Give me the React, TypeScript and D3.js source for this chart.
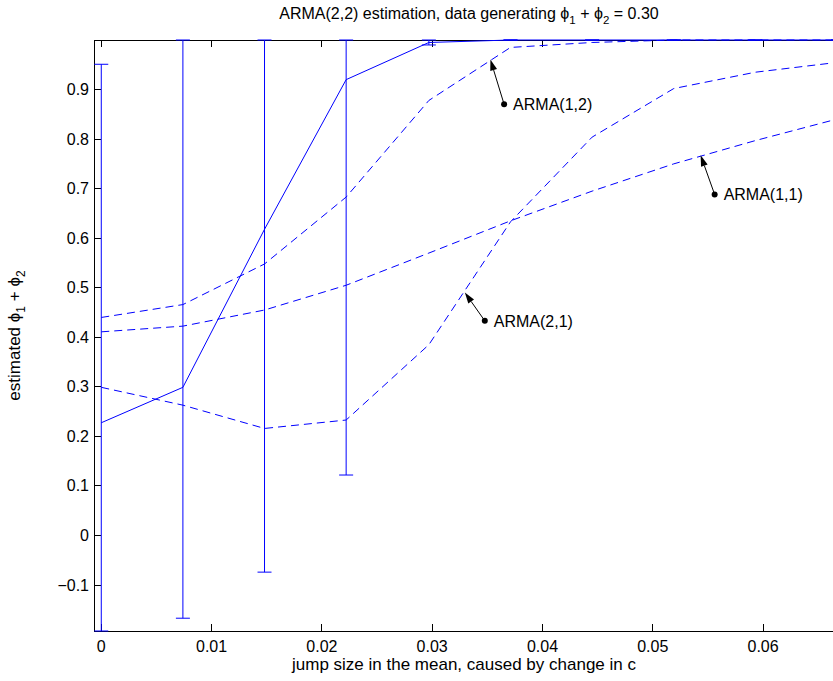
import * as d3 from "d3";

// jump size in the mean (x positions of the estimates)
const jumpSizes = [0, 0.0074, 0.0148, 0.0222, 0.0297, 0.0371, 0.0445, 0.0519, 0.0593, 0.0668];

// ARMA(2,2) mean estimate with error bar bounds
const arma22 = [0.2275, 0.299, 0.618, 0.92, 0.995, 1.0, 1.0, 1.0, 1.0, 1.0];
const arma22Upper = [0.951, 1.0, 1.0, 1.0, 1.0, 1.0, 1.0, 1.0, 1.0, 1.0];
const arma22Lower = [-0.1928, -0.167, -0.074, 0.122, 0.99, 1.0, 1.0, 1.0, 1.0, 1.0];

// misspecified models
const arma12 = [0.44, 0.466, 0.548, 0.683, 0.878, 0.985, 0.995, 1.0, 1.0, 1.0];
const arma11 = [0.411, 0.4225, 0.455, 0.505, 0.57, 0.635, 0.695, 0.75, 0.797, 0.841];
const arma21 = [0.299, 0.263, 0.216, 0.233, 0.385, 0.633, 0.804, 0.902, 0.935, 0.955];

const xTicks = [0, 0.01, 0.02, 0.03, 0.04, 0.05, 0.06];
const yTicks = [-0.1, 0, 0.1, 0.2, 0.3, 0.4, 0.5, 0.6, 0.7, 0.8, 0.9];

// annotations: label, arrow tail (dot) and head, in data units
const annotLabels = ["ARMA(1,2)", "ARMA(2,1)", "ARMA(1,1)"];
const annotTail = [[0.03652, 0.8703], [0.03477, 0.4332], [0.05561, 0.6882]];
const annotHead = [[0.03528, 0.9605], [0.03296, 0.4905], [0.05434, 0.7675]];

const FONT = "'Liberation Sans', Arial, Helvetica, sans-serif";
const BLUE = "#0000ff";
const PHI = "\u03D5";

const box = { left: 94, top: 40, right: 834, bottom: 631 };

export default function App() {
  const x = d3.scaleLinear().domain([-0.00066, 0.06643]).range([box.left, box.right]);
  const y = d3.scaleLinear().domain([-0.1928, 1.0]).range([box.bottom, box.top]);

  const line = d3
    .line<number>()
    .x((_, i) => x(jumpSizes[i]))
    .y((d) => y(d));

  const dashed = [arma12, arma11, arma21];
  const capHalf = 7;
  const tick = 7;

  const fmtY = (v: number) => (v < 0 ? "\u2212" + Math.abs(v).toString() : v === 0 ? "0" : v.toFixed(1));

  return (
    <svg width={833} height={681} style={{ display: "block", position: "absolute", left: 0, top: 0 }}>
      <rect width={833} height={681} fill="#fff" />
      <defs>
        <clipPath id="plot">
          <rect x={box.left - 1} y={box.top - 1} width={box.right - box.left + 2} height={box.bottom - box.top + 2} />
        </clipPath>
      </defs>

      {/* axes box */}
      <rect
        x={box.left}
        y={box.top}
        width={box.right - box.left}
        height={box.bottom - box.top}
        fill="none"
        stroke="#000"
        strokeWidth={1}
        shapeRendering="crispEdges"
      />

      {/* ticks */}
      {xTicks.map((t) => (
        <g key={"xt" + t} shapeRendering="crispEdges">
          <line x1={x(t)} x2={x(t)} y1={box.bottom} y2={box.bottom - tick} stroke="#000" />
          <line x1={x(t)} x2={x(t)} y1={box.top} y2={box.top + tick} stroke="#000" />
          <text x={x(t)} y={652} textAnchor="middle" fontFamily={FONT} fontSize={16} fill="#000">
            {t === 0 ? "0" : t.toFixed(2)}
          </text>
        </g>
      ))}
      {yTicks.map((t) => (
        <g key={"yt" + t} shapeRendering="crispEdges">
          <line x1={box.left} x2={box.left + tick} y1={y(t)} y2={y(t)} stroke="#000" />
          <text x={box.left - 5} y={y(t) + 5.5} textAnchor="end" fontFamily={FONT} fontSize={16} fill="#000">
            {fmtY(t)}
          </text>
        </g>
      ))}

      <g clipPath="url(#plot)">
        {/* error bars */}
        {jumpSizes.map((xv, i) => (
          <g key={"eb" + i} stroke={BLUE} strokeWidth={1}>
            <line x1={x(xv)} x2={x(xv)} y1={y(arma22Lower[i])} y2={y(arma22Upper[i])} />
            <line x1={x(xv) - capHalf} x2={x(xv) + capHalf} y1={y(arma22Lower[i])} y2={y(arma22Lower[i])} />
            <line x1={x(xv) - capHalf} x2={x(xv) + capHalf} y1={y(arma22Upper[i])} y2={y(arma22Upper[i])} />
          </g>
        ))}
        <path d={line(arma22) ?? ""} fill="none" stroke={BLUE} strokeWidth={1} />
        {dashed.map((s, k) => (
          <path key={"ds" + k} d={line(s) ?? ""} fill="none" stroke={BLUE} strokeWidth={1} strokeDasharray="8,5" />
        ))}
      </g>

      {/* annotations */}
      {annotLabels.map((lab, i) => {
        const tx = x(annotTail[i][0]);
        const ty = y(annotTail[i][1]);
        const hx = x(annotHead[i][0]);
        const hy = y(annotHead[i][1]);
        const ang = Math.atan2(hy - ty, hx - tx);
        const len = 11;
        const hw = 3.5;
        const bx = hx - len * Math.cos(ang);
        const by = hy - len * Math.sin(ang);
        const px = -Math.sin(ang) * hw;
        const py = Math.cos(ang) * hw;
        return (
          <g key={"an" + i}>
            <line x1={tx} y1={ty} x2={bx} y2={by} stroke="#000" strokeWidth={1} />
            <path d={`M${hx},${hy}L${bx + px},${by + py}L${bx - px},${by - py}Z`} fill="#000" />
            <circle cx={tx} cy={ty} r={3} fill="#000" />
            <text x={tx + 9} y={ty + 6} fontFamily={FONT} fontSize={16} fill="#000">
              {lab}
            </text>
          </g>
        );
      })}

      {/* title */}
      <text x={469} y={19} textAnchor="middle" fontFamily={FONT} fontSize={16} fill="#000">
        ARMA(2,2) estimation, data generating {PHI}
        <tspan fontSize={11.5} dy={5}>1</tspan>
        <tspan dy={-5}> + {PHI}</tspan>
        <tspan fontSize={11.5} dy={5}>2</tspan>
        <tspan dy={-5}> = 0.30</tspan>
      </text>

      {/* x label */}
      <text x={464} y={670} textAnchor="middle" fontFamily={FONT} fontSize={17} fill="#000">
        jump size in the mean, caused by change in c
      </text>

      {/* y label */}
      <text
        transform={`translate(20,${(box.top + box.bottom) / 2}) rotate(-90)`}
        textAnchor="middle"
        fontFamily={FONT}
        fontSize={17}
        fill="#000"
      >
        estimated {PHI}
        <tspan fontSize={12} dy={5}>1</tspan>
        <tspan dy={-5}> + {PHI}</tspan>
        <tspan fontSize={12} dy={5}>2</tspan>
      </text>
    </svg>
  );
}
